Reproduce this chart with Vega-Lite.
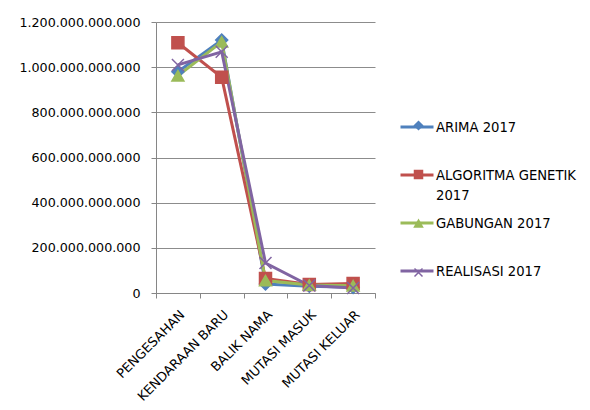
{
  "$schema": "https://vega.github.io/schema/vega-lite/v6.json",
  "width": 219,
  "height": 271,
  "autosize": {"type": "none"},
  "padding": {"left": 156, "top": 22, "right": 215, "bottom": 117},
  "background": "white",
  "config": {
    "locale": {"number": {"decimal": ",", "thousands": ".", "grouping": [3], "currency": ["Rp", ""]}},
    "view": {"stroke": null},
    "font": "DejaVu Sans"
  },
  "data": {
    "values": [
      {"series": "ARIMA 2017", "kategori": "PENGESAHAN", "nilai": 980000000000},
      {"series": "ARIMA 2017", "kategori": "KENDARAAN BARU", "nilai": 1120000000000},
      {"series": "ARIMA 2017", "kategori": "BALIK NAMA", "nilai": 40000000000},
      {"series": "ARIMA 2017", "kategori": "MUTASI MASUK", "nilai": 30000000000},
      {"series": "ARIMA 2017", "kategori": "MUTASI KELUAR", "nilai": 25000000000},
      {"series": "ALGORITMA GENETIK 2017", "kategori": "PENGESAHAN", "nilai": 1108000000000},
      {"series": "ALGORITMA GENETIK 2017", "kategori": "KENDARAAN BARU", "nilai": 955000000000},
      {"series": "ALGORITMA GENETIK 2017", "kategori": "BALIK NAMA", "nilai": 64000000000},
      {"series": "ALGORITMA GENETIK 2017", "kategori": "MUTASI MASUK", "nilai": 38000000000},
      {"series": "ALGORITMA GENETIK 2017", "kategori": "MUTASI KELUAR", "nilai": 42000000000},
      {"series": "GABUNGAN 2017", "kategori": "PENGESAHAN", "nilai": 962000000000},
      {"series": "GABUNGAN 2017", "kategori": "KENDARAAN BARU", "nilai": 1112000000000},
      {"series": "GABUNGAN 2017", "kategori": "BALIK NAMA", "nilai": 55000000000},
      {"series": "GABUNGAN 2017", "kategori": "MUTASI MASUK", "nilai": 35000000000},
      {"series": "GABUNGAN 2017", "kategori": "MUTASI KELUAR", "nilai": 32000000000},
      {"series": "REALISASI 2017", "kategori": "PENGESAHAN", "nilai": 1010000000000},
      {"series": "REALISASI 2017", "kategori": "KENDARAAN BARU", "nilai": 1068000000000},
      {"series": "REALISASI 2017", "kategori": "BALIK NAMA", "nilai": 133000000000},
      {"series": "REALISASI 2017", "kategori": "MUTASI MASUK", "nilai": 33000000000},
      {"series": "REALISASI 2017", "kategori": "MUTASI KELUAR", "nilai": 22000000000}
    ]
  },
  "encoding": {
    "x": {
      "field": "kategori",
      "type": "nominal",
      "sort": null,
      "scale": {"type": "band", "paddingInner": 0, "paddingOuter": 0},
      "axis": {
        "title": null,
        "labelAngle": -45,
        "tickBand": "extent",
        "domainColor": "#868686",
        "tickColor": "#868686",
        "tickSize": 5,
        "labelFont": "DejaVu Sans",
        "labelFontSize": 13,
        "labelColor": "#000000",
        "labelLimit": 200,
        "labelPadding": 10
      }
    },
    "y": {
      "field": "nilai",
      "type": "quantitative",
      "scale": {"domain": [0, 1200000000000]},
      "axis": {
        "title": null,
        "values": [0, 200000000000, 400000000000, 600000000000, 800000000000, 1000000000000, 1200000000000],
        "format": ",.0f",
        "grid": true,
        "gridColor": "#8c8c8c",
        "domainColor": "#868686",
        "ticks": true,
        "tickColor": "#868686",
        "tickSize": 5,
        "labelPadding": 11,
        "labelFont": "DejaVu Sans",
        "labelFontSize": 12.7,
        "labelColor": "#000000"
      }
    }
  },
  "layer": [
    {
      "mark": {"type": "line", "strokeWidth": 3},
      "encoding": {
        "order": {"value": null},
        "color": {
          "field": "series",
          "type": "nominal",
          "scale": {
            "domain": ["ARIMA 2017", "ALGORITMA GENETIK 2017", "GABUNGAN 2017", "REALISASI 2017"],
            "range": ["#4f81bd", "#c0504d", "#9bbb59", "#8064a2"]
          },
          "legend": {
            "orient": "none",
            "legendX": 243,
            "legendY": 87,
            "title": null,
            "symbolType": "stroke",
            "symbolSize": 1089,
            "symbolStrokeWidth": 3,
            "labelFont": "DejaVu Sans",
            "labelFontSize": 13.2,
            "labelColor": "#000000",
            "labelLimit": 200,
            "labelOffset": 1,
            "labelBaseline": "alphabetic",
            "labelExpr": "datum.label == 'ALGORITMA GENETIK 2017' ? ['ALGORITMA GENETIK', '2017'] : datum.label",
            "gridAlign": "all",
            "rowPadding": 3,
            "encode": {"labels": {"update": {"dy": {"value": 4.8}, "lineHeight": {"value": 20}}}}
          }
        }
      }
    },
    {
      "mark": {"type": "point", "filled": true, "size": 144, "strokeWidth": 1.5, "opacity": 1},
      "encoding": {
        "shape": {
          "field": "series",
          "type": "nominal",
          "sort": null,
          "scale": {"range": ["diamond", "square", "triangle-up", "M-1,-1L1,1M-1,1L1,-1"]},
          "legend": {
            "orient": "none",
            "legendX": 256,
            "legendY": 97,
            "title": null,
            "symbolSize": 64,
            "symbolStrokeWidth": 1.5,
            "labelFontSize": 13,
            "labelExpr": "''",
            "gridAlign": "all",
            "rowPadding": 34
          }
        },
        "fill": {
          "field": "series",
          "type": "nominal",
          "sort": null,
          "scale": {"range": ["#4f81bd", "#c0504d", "#9bbb59", "#8064a2"]},
          "legend": {
            "orient": "none",
            "legendX": 256,
            "legendY": 97,
            "title": null,
            "symbolSize": 64,
            "labelFontSize": 13,
            "labelExpr": "''",
            "gridAlign": "all",
            "rowPadding": 34
          }
        },
        "stroke": {
          "field": "series",
          "type": "nominal",
          "sort": null,
          "scale": {"range": ["#4f81bd", "#c0504d", "#9bbb59", "#8064a2"]},
          "legend": {
            "orient": "none",
            "legendX": 256,
            "legendY": 97,
            "title": null,
            "symbolSize": 64,
            "labelFontSize": 13,
            "labelExpr": "''",
            "gridAlign": "all",
            "rowPadding": 34
          }
        }
      }
    }
  ]
}
